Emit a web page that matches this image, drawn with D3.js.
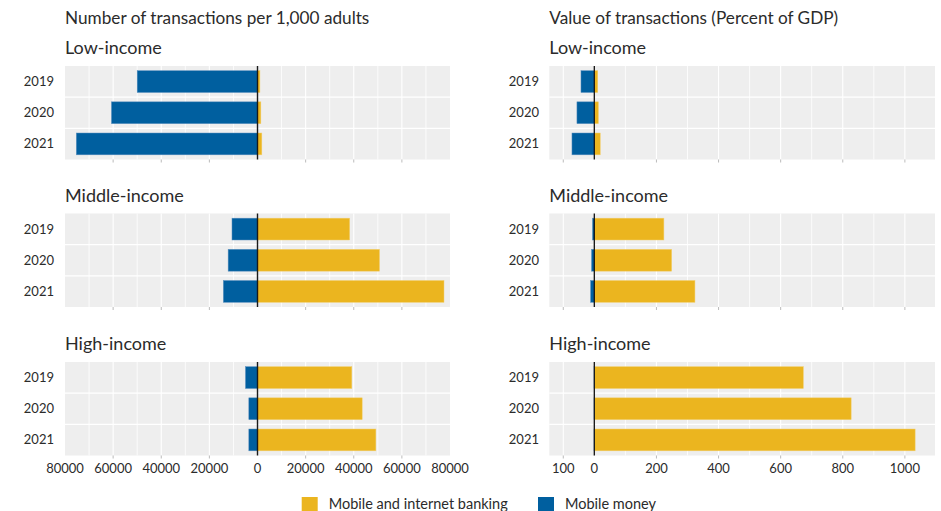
<!DOCTYPE html>
<html><head><meta charset="utf-8">
<script src="https://cdn.jsdelivr.net/npm/d3@7"></script>
<style>
body{margin:0;background:#fff;}
svg text{font-family:Lato,"Open Sans",sans-serif;fill:#2b2b2b;}
</style></head>
<body><svg id="c" width="941" height="511"></svg>
<script>
const years = ["2019", "2020", "2021"];
const groups = ["Low-income", "Middle-income", "High-income"];
const seriesNames = ["Mobile and internet banking", "Mobile money"];
// Number of transactions per 1,000 adults
const countBanking = [[1000, 1400, 1800], [38300, 50700, 77500], [39200, 43500, 49200]];
const countMoney   = [[50000, 60700, 75300], [10600, 12200, 14200], [5000, 3600, 3600]];
// Value of transactions (percent of GDP)
const valueBanking = [[11, 13, 19], [224, 249, 324], [673, 827, 1033]];
const valueMoney   = [[43, 56, 72], [6, 9, 12], [1, 1, 1]];
// ticks
const countTicks = [-80000, -60000, -40000, -20000, 0, 20000, 40000, 60000, 80000];
const countGrid = [-70000, -50000, -30000, -10000, 10000, 30000, 50000, 70000];
const valueTicks = [-100, 0, 200, 400, 600, 800, 1000];
const valueGrid = [100, 300, 500, 700, 900];

const BLUE = "#005f9f", YELLOW = "#ebb51f", BG = "#eeeeee";
const svg = d3.select("#c");

const panelTops = [66, 213.5, 362];
const panelH = 93.5;

const cols = [
  {title: "Number of transactions per 1,000 adults", x0: 65, x1: 450, domain: [-80000, 80000],
   banking: countBanking, money: countMoney, ticks: countTicks, grid: countGrid, labelX: 54},
  {title: "Value of transactions (Percent of GDP)", x0: 549.3, x1: 935, domain: [-145, 1097],
   banking: valueBanking, money: valueMoney, ticks: valueTicks, grid: valueGrid, labelX: 539}
];

cols.forEach(col => {
  const x = d3.scaleLinear().domain(col.domain).range([col.x0, col.x1]);
  svg.append("text").attr("x", col.x0).attr("y", 24).attr("font-size", 17.2).text(col.title);

  groups.forEach((g, gi) => {
    const top = panelTops[gi];
    const y = d3.scaleBand().domain(years).range([top, top + panelH]).paddingInner(0.3).paddingOuter(0.15);
    const band = d3.scaleBand().domain(years).range([top, top + panelH]);
    const p = svg.append("g");
    p.append("text").attr("x", col.x0).attr("y", top - 12).attr("font-size", 18).text(g);
    p.append("rect").attr("x", col.x0).attr("y", top).attr("width", col.x1 - col.x0).attr("height", panelH).attr("fill", BG);
    // vertical grid
    p.selectAll(".gmin").data(col.grid).join("line")
      .attr("x1", d => x(d)).attr("x2", d => x(d)).attr("y1", top).attr("y2", top + panelH)
      .attr("stroke", "#fff").attr("stroke-width", 0.8);
    p.selectAll(".gmaj").data(col.ticks.filter(d => x(d) > col.x0 + 1 && x(d) < col.x1 - 1)).join("line")
      .attr("x1", d => x(d)).attr("x2", d => x(d)).attr("y1", top).attr("y2", top + panelH)
      .attr("stroke", "#fff").attr("stroke-width", 1.1);
    // horizontal separators
    p.selectAll(".hs").data(years.slice(1)).join("line")
      .attr("x1", col.x0).attr("x2", col.x1).attr("y1", d => band(d)).attr("y2", d => band(d))
      .attr("stroke", "#fff").attr("stroke-width", 1.1);
    // tick marks
    p.selectAll(".tm").data(col.ticks.filter(d => d !== 0 && x(d) > col.x0 + 1 && x(d) < col.x1 - 1)).join("line")
      .attr("x1", d => x(d)).attr("x2", d => x(d)).attr("y1", top + panelH).attr("y2", top + panelH + 3)
      .attr("stroke", "#aaa").attr("stroke-width", 0.8);
    // bars
    p.selectAll(".bm").data(years).join("rect")
      .attr("x", (d, i) => x(-col.money[gi][i])).attr("y", d => y(d))
      .attr("width", (d, i) => x(0) - x(-col.money[gi][i])).attr("height", y.bandwidth())
      .attr("fill", BLUE).attr("stroke", "#5a8fbf").attr("stroke-width", 0.5);
    p.selectAll(".bb").data(years).join("rect")
      .attr("x", x(0)).attr("y", d => y(d))
      .attr("width", (d, i) => x(col.banking[gi][i]) - x(0)).attr("height", y.bandwidth())
      .attr("fill", YELLOW).attr("stroke", "#f2cf6e").attr("stroke-width", 0.5);
    // zero line
    p.append("line").attr("x1", x(0)).attr("x2", x(0)).attr("y1", top).attr("y2", top + panelH)
      .attr("stroke", "#1a1a1a").attr("stroke-width", 1.4);
    // year labels
    p.selectAll(".yl").data(years).join("text")
      .attr("x", col.labelX).attr("y", d => band(d) + band.bandwidth() / 2 + 4.5)
      .attr("text-anchor", "end").attr("font-size", 13).text(d => d);
  });

  // x axis labels under bottom panel
  const by = panelTops[2] + panelH;
  svg.append("g").selectAll("text").data(col.ticks).join("text")
    .attr("x", d => x(d)).attr("y", by + 17.5).attr("text-anchor", "middle").attr("font-size", 13)
    .text(d => d3.format("d")(Math.abs(d)));
});

// legend
const colors = [YELLOW, BLUE];
const legX = [301.7, 538];
seriesNames.forEach((s, i) => {
  svg.append("rect").attr("x", legX[i]).attr("y", 497).attr("width", 16).attr("height", 16).attr("fill", colors[i]);
  svg.append("text").attr("x", legX[i] + 27).attr("y", 509).attr("font-size", 14.5).text(s);
});
</script></body></html>
